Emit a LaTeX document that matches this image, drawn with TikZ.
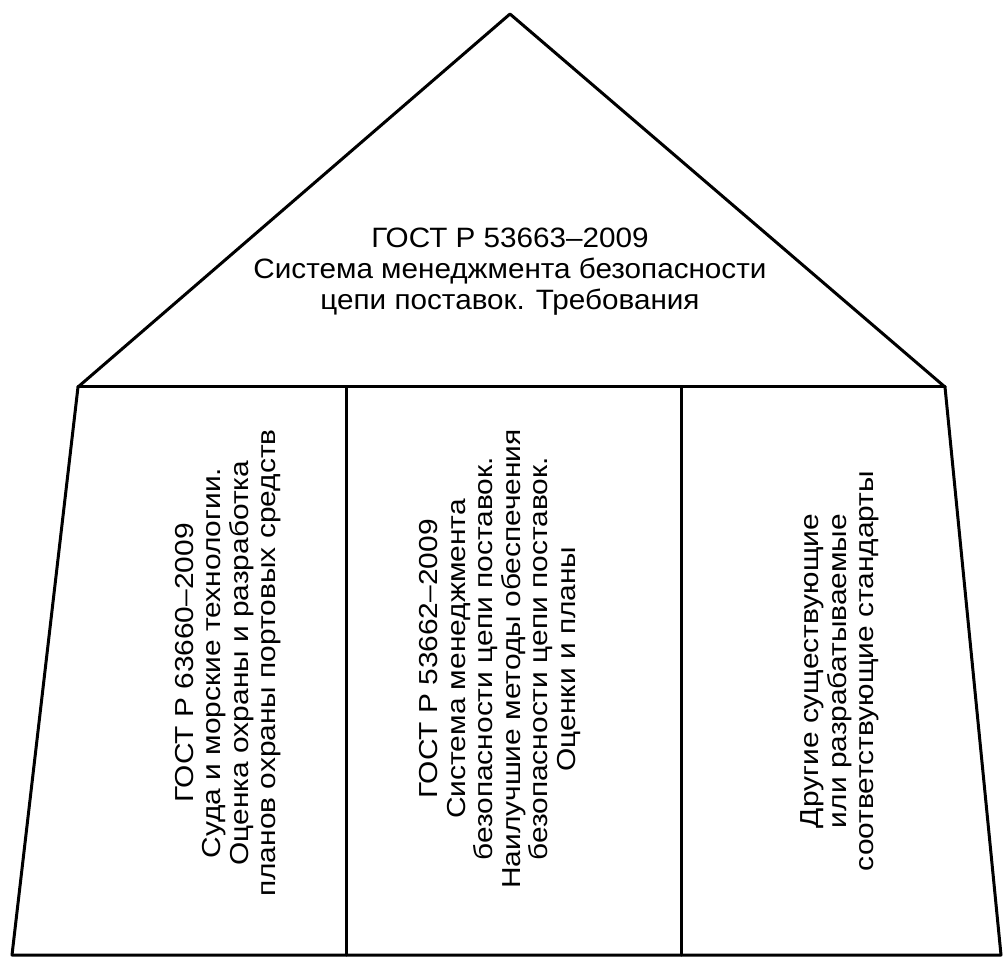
\documentclass[tikz,border=0pt]{standalone}
\usepackage{fontspec}
\setmainfont{Liberation Sans}
\newfontfamily\roofface[FakeStretch=1.06]{Liberation Sans}
\newfontfamily\colface[FakeStretch=1.15]{Liberation Sans}
\begin{document}
\begin{tikzpicture}[x=1pt,y=-1pt,
  wall/.style={line width=3pt,line join=round,line cap=round},
  toptext/.style={align=center,font=\roofface\fontsize{28}{31}\selectfont,inner sep=0pt},
  coltext/.style={align=center,font=\colface\fontsize{26}{27.5}\selectfont,inner sep=0pt,rotate=90}]
\useasboundingbox (0,0) rectangle (1007,957);
\coordinate (apex) at (510,14);
\coordinate (el) at (78,387);
\coordinate (er) at (945,387);
\coordinate (bl) at (12,955);
\coordinate (br) at (1001,955);
\coordinate (d1t) at (346,388);
\coordinate (d1b) at (346,955);
\coordinate (d2t) at (681,388);
\coordinate (d2b) at (681,955);
\draw[wall] (bl) -- (el) -- (apex) -- (er) -- (br) -- cycle;
\draw[wall] (el) -- (er);
\draw[wall] (d1t) -- (d1b);
\draw[wall] (d2t) -- (d2b);
\node[toptext] (roof) at (510,272) {ГОСТ Р 53663–2009\\Система менеджмента безопасности\\цепи поставок. Требования};
\node[coltext] (c1) at (228,663) {ГОСТ Р 63660–2009\\Суда и морские технологии.\\Оценка охраны и разработка\\планов охраны портовых средств};
\node[coltext] (c2) at (500,659) {ГОСТ Р 53662–2009\\Система менеджмента\\безопасности цепи поставок.\\Наилучшие методы обеспечения\\безопасности цепи поставок.\\Оценки и планы};
\node[coltext] (c3) at (840,671) {Другие существующие\\или разрабатываемые\\соответствующие стандарты};
\end{tikzpicture}
\end{document}
